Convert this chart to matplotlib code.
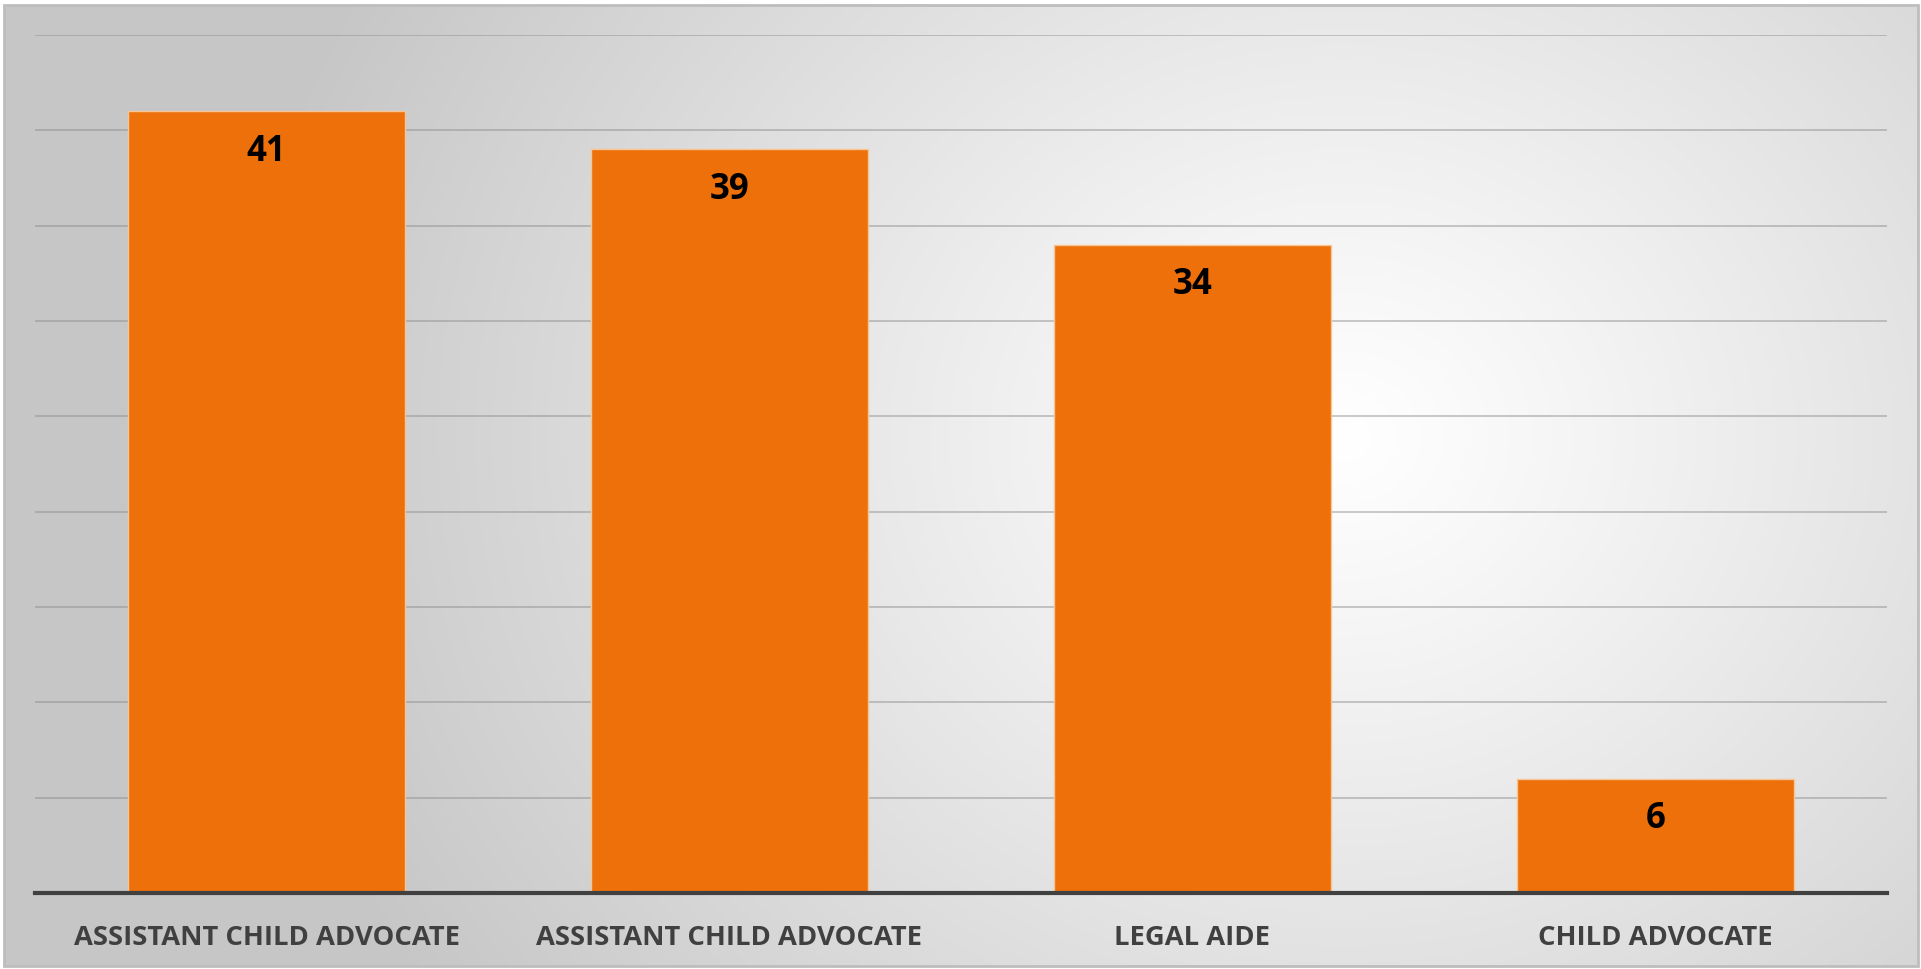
import numpy as np
import matplotlib.pyplot as plt

# staffing counts per position
positions = ['ASSISTANT CHILD ADVOCATE', 'ASSISTANT CHILD ADVOCATE',
             'LEGAL AIDE', 'CHILD ADVOCATE']
counts = [41, 39, 34, 6]
y_ticks = [0, 5, 10, 15, 20, 25, 30, 35, 40, 45]

BAR_COLOR = '#ED700A'
W, H = 1921, 969

fig = plt.figure(figsize=(W / 100, H / 100), dpi=100)
fig.patch.set_facecolor('white')

# radial grey-to-white backdrop inside a thin frame
bg = fig.add_axes([4 / W, 3 / H, 1914 / W, 961 / H])
gx, gy = np.meshgrid(np.linspace(0, 1, 400), np.linspace(0, 1, 200))
r = np.sqrt(((gx - 0.70) * 1.9) ** 2 + ((gy - 0.55) * 1.1) ** 2)
shade = np.clip(1.0 - 0.22 * np.clip(r / 1.1, 0, 1) ** 1.1, 0, 1)
bg.imshow(np.dstack([shade] * 3), aspect='auto', origin='lower',
          extent=[0, 1, 0, 1], interpolation='bicubic')
bg.set_axis_off()
frame = plt.Rectangle((4 / W, 3 / H), 1914 / W, 961 / H,
                      transform=fig.transFigure, fill=False,
                      edgecolor='#bdbdbd', linewidth=2, zorder=5)
fig.patches.append(frame)

ax = fig.add_axes([35 / W, 1 - 893 / H, 1852 / W, 858 / H])
ax.set_facecolor('none')

x = np.arange(len(counts))
ax.bar(x, counts, width=0.6, color=BAR_COLOR, edgecolor='#f6c596',
       linewidth=1, zorder=3)

for xi, v in zip(x, counts):
    ax.annotate(str(v), (xi, v), xytext=(0, -29), textcoords='offset points',
                ha='center', va='center', fontsize=25, fontweight='bold',
                family='Open Sans', color='black', zorder=4)

ax.set_xlim(-0.5, len(counts) - 0.5)
ax.set_ylim(0, 45)
ax.set_yticks(y_ticks)
ax.yaxis.grid(True, color='#8c8c8c', alpha=0.5, linewidth=1.3, zorder=0)
ax.tick_params(axis='y', left=False, labelleft=False)
ax.set_xticks(x)
ax.set_xticklabels(positions, fontsize=19.7, fontweight='bold',
                   family='Open Sans', color='#404040')
ax.tick_params(axis='x', length=0, pad=23)

for side in ['top', 'right', 'left']:
    ax.spines[side].set_visible(False)
ax.spines['bottom'].set_color('#404040')
ax.spines['bottom'].set_linewidth(3)
ax.spines['bottom'].set_zorder(4)

fig.savefig('out.png', dpi=100)
